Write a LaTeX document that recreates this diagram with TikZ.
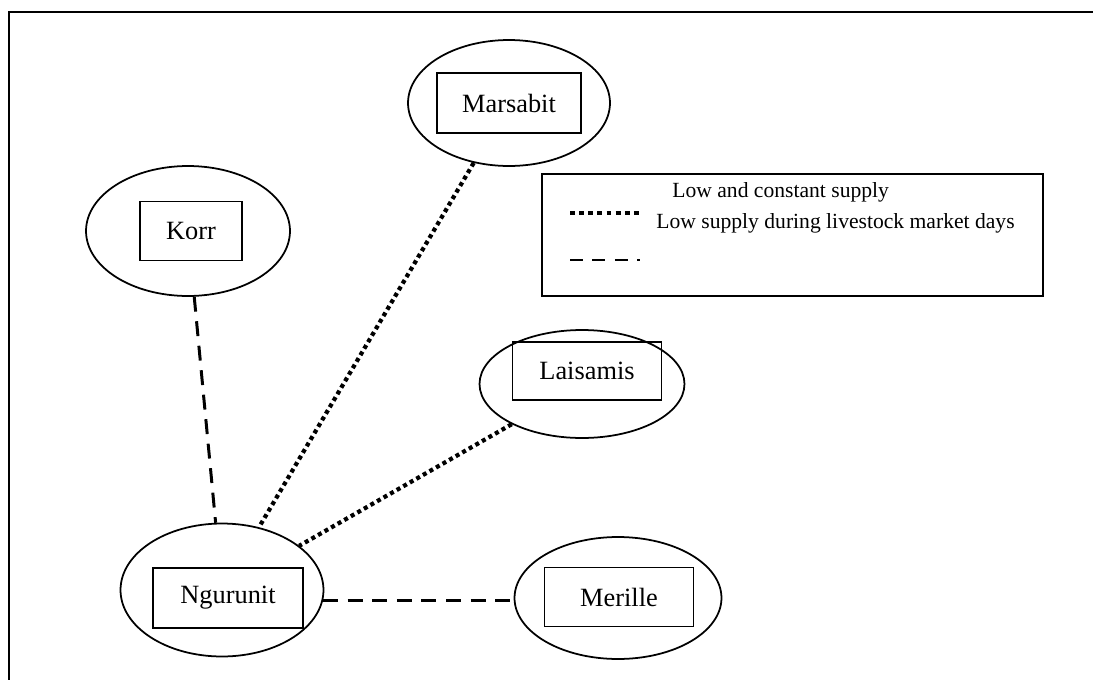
\documentclass[tikz,border=0pt]{standalone}
\usepackage{fontspec}
\setmainfont{Liberation Serif}
\usetikzlibrary{shapes.geometric}
\tikzset{
  town/.style={draw, ellipse, line width=1pt, inner sep=0pt},
  townbox/.style={draw, rectangle, line width=0.9pt, inner sep=0pt,
    font=\fontsize{15}{18}\selectfont},
  lowroute/.style={line width=2.4pt, dash pattern=on 2.3pt off 2pt},
  lowkey/.style={line width=2.2pt, dash pattern=on 2.8pt off 2.4pt},
  marketroute/.style={line width=1.7pt, dash pattern=on 8.5pt off 5.5pt},
  marketkey/.style={line width=1.7pt, dash pattern=on 7.4pt off 5.4pt},
  keybox/.style={draw, rectangle, line width=1pt, inner sep=0pt},
  keytext/.style={anchor=west, inner sep=0pt, font=\fontsize{12.3}{14}\selectfont},
}

\begin{document}
\begin{tikzpicture}[x=0.02cm, y=-0.02cm]
  \useasboundingbox (0,0) rectangle (1093,680);
  \coordinate (framebl) at (9,680);
  \coordinate (frametl) at (9,12);
  \coordinate (frametr) at (1093,12);
  \draw[line width=1.2pt] (framebl) -- (frametl) -- (frametr);

  \node[town, minimum width=4.08cm, minimum height=2.6cm] (korr) at (188,231) {};
  \node[townbox, minimum width=2.04cm, minimum height=1.18cm] (korrbox) at (191,231) {Korr};

  \node[town, minimum width=4.04cm, minimum height=2.52cm] (marsabit) at (509,103) {};
  \node[townbox, minimum width=2.88cm, minimum height=1.2cm] (marsabitbox) at (509,103) {Marsabit};

  \node[town, minimum width=4.1cm, minimum height=2.16cm] (laisamis) at (582,384) {};
  \node[townbox, minimum width=2.98cm, minimum height=1.16cm] (laisamisbox) at (587,371) {Laisamis};

  \node[town, minimum width=4.06cm, minimum height=2.66cm] (ngurunit) at (222,590) {};
  \node[townbox, minimum width=3.0cm, minimum height=1.2cm] (ngurunitbox) at (228,598) {Ngurunit};

  \node[town, minimum width=4.14cm, minimum height=2.44cm] (merille) at (618,598) {};
  \node[townbox, minimum width=2.98cm, minimum height=1.18cm] (merillebox) at (619,597) {Merille};

  \draw[marketroute] (korr) -- (ngurunit);
  \draw[lowroute] (marsabit) -- (ngurunit);
  \draw[lowroute] (laisamis) -- (ngurunit);
  \draw[marketroute] (ngurunit.-6) -- (merille.west |- ngurunit.-6);

  \node[keybox, minimum width=10.02cm, minimum height=2.44cm] (key) at (792.5,235) {};
  \coordinate (lowa) at (570,213);
  \coordinate (lowb) at (643,213);
  \coordinate (marketa) at (570,260);
  \coordinate (marketb) at (640,260);
  \draw[lowkey] (lowa) -- (lowb);
  \draw[marketkey] (marketa) -- (marketb);
  \node[keytext] (lowtext) at (672,192) {Low and constant supply};
  \node[keytext] (markettext) at (656,223) {Low supply during livestock market days};
\end{tikzpicture}
\end{document}
